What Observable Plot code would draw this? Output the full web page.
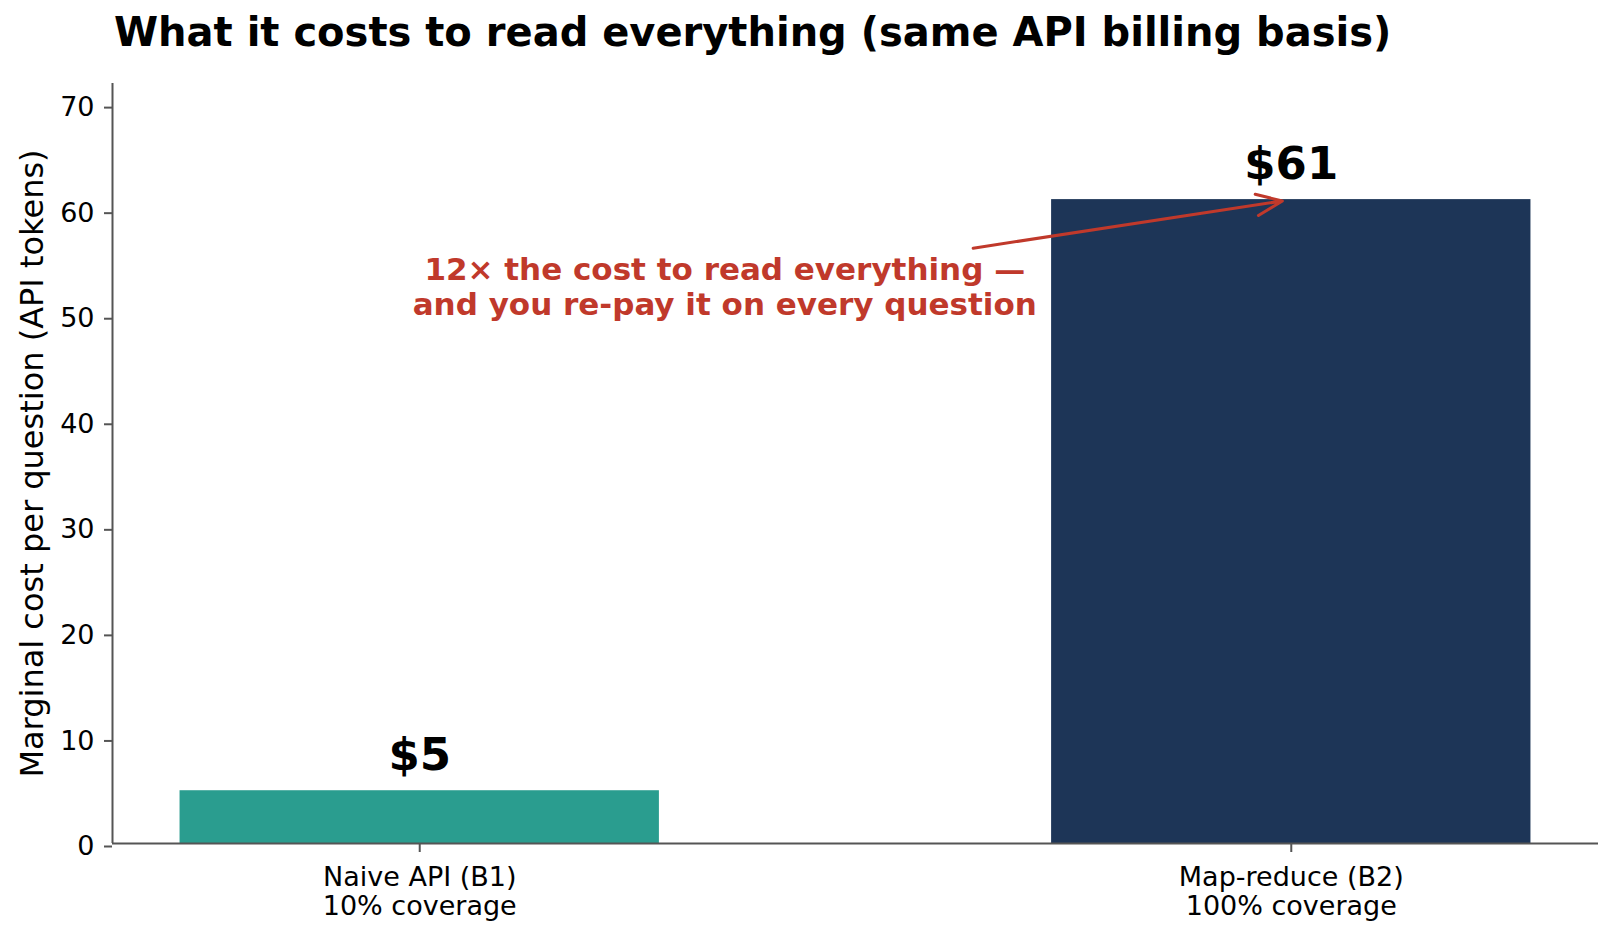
<!DOCTYPE html>
<html>
<head>
<meta charset="utf-8">
<script src="https://cdn.jsdelivr.net/npm/d3@7"></script>
<script src="https://cdn.jsdelivr.net/npm/@observablehq/plot@0.6"></script>
<style>
  html, body { margin: 0; padding: 0; background: #fff; }
  #title {
    box-sizing: border-box; height: 70px; padding: 12px 0 0 114px;
    font-family: "DejaVu Sans", sans-serif; font-weight: bold; font-size: 40px;
    line-height: 1; color: #000; white-space: nowrap;
  }
  svg { display: block; }
</style>
</head>
<body>
<div id="title">What it costs to read everything (same API billing basis)</div>
<div id="chart"></div>
<script>
// ---- data ----
const categories = ["Naive API (B1)\n10% coverage", "Map-reduce (B2)\n100% coverage"];
const costs = [5, 61];
const valueLabels = ["$5", "$61"];
const barColors = ["#2a9d8f", "#1d3557"];
const yTicks = [0, 10, 20, 30, 40, 50, 60, 70];
const yLabel = "Marginal cost per question (API tokens)";
const annotationText = "12× the cost to read everything —\nand you re-pay it on every question";
const annotationAt = [0.35, 52.75];   // text centre, data units
const arrowFrom = [0.635, 56.4];      // data units
const arrowTo = [1, 61];              // data units

// ---- derived table ----
const barWidth = 0.55;
const bars = categories.map((c, i) => ({pos: i, label: c, value: costs[i], text: valueLabels[i], color: barColors[i]}));
const xDomain = [-barWidth / 2 - 0.05 * (1 + barWidth), 1 + barWidth / 2 + 0.05 * (1 + barWidth)];

const font = "DejaVu Sans, sans-serif";
const axisColor = "#555";

const chart = Plot.plot({
  width: 1614,
  height: 868,
  marginTop: 13,
  marginBottom: 95,
  marginLeft: 112,
  marginRight: 16,
  style: {fontFamily: font, background: "#fff", color: "#000"},
  x: {type: "linear", domain: xDomain},
  y: {domain: [0, 72]},
  marks: [
    Plot.rectY(bars, {x1: d => d.pos - barWidth / 2, x2: d => d.pos + barWidth / 2, y1: 0, y2: "value", fill: "color"}),
    Plot.ruleY([0], {stroke: axisColor, strokeWidth: 2}),
    Plot.ruleX([xDomain[0]], {stroke: axisColor, strokeWidth: 2}),
    Plot.axisY({ticks: yTicks, tickSize: 8, tickPadding: 10, fontSize: 27, label: null, stroke: axisColor, strokeWidth: 2, color: "#000", dy: 3}),
    Plot.axisX({ticks: bars.map(d => d.pos), tickFormat: i => categories[i], tickSize: 9, tickPadding: 12, fontSize: 27, lineHeight: 1.1, label: null, stroke: axisColor, strokeWidth: 2, color: "#000"}),
    Plot.text([yLabel], {frameAnchor: "left", rotate: -90, dx: -80, fontSize: 32, textAnchor: "middle", lineAnchor: "middle", fill: "#000"}),
    Plot.text(bars, {x: "pos", y: "value", text: "text", dy: -21, lineAnchor: "bottom", fontSize: 45, fontWeight: "bold", fill: "#000"}),
    Plot.arrow([0], {x1: () => arrowFrom[0], y1: () => arrowFrom[1], x2: () => arrowTo[0], y2: () => arrowTo[1], stroke: "#c0392b", strokeWidth: 3, bend: 0, headLength: 14, headAngle: 45, insetEnd: 9}),
    Plot.text([annotationText], {x: () => annotationAt[0], y: () => annotationAt[1], fontSize: 31, fontWeight: "bold", fill: "#c0392b", textAnchor: "middle", lineAnchor: "middle", lineHeight: 1.13})
  ]
});
document.getElementById("chart").appendChild(chart);
</script>
</body>
</html>
